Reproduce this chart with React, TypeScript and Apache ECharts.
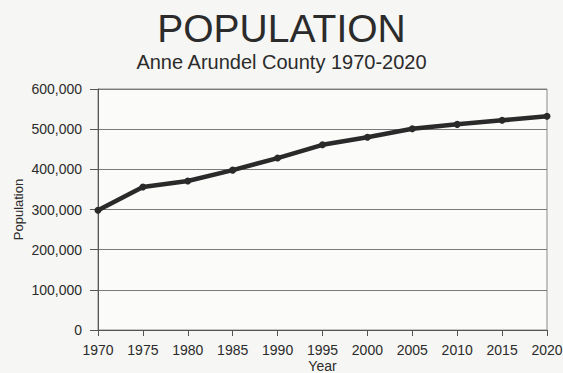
import React, { useEffect, useRef } from "react";
import * as echarts from "echarts";

const years = ["1970", "1975", "1980", "1985", "1990", "1995", "2000", "2005", "2010", "2015", "2020"];
const population = [298000, 356000, 371000, 398000, 428000, 461000, 480000, 501000, 512000, 522000, 532000];
const titleText = "POPULATION";
const subtitleText = "Anne Arundel County 1970-2020";
const yAxisName = "Population";
const xAxisName = "Year";

export default function App() {
  const ref = useRef<HTMLDivElement>(null);
  useEffect(() => {
    document.body.style.margin = "0";
    const chart = echarts.init(ref.current!, null, { renderer: "svg" });
    const sans = "Liberation Sans";
    chart.setOption({
      animation: false,
      backgroundColor: "#f6f6f4",
      title: [
        {
          text: titleText,
          left: "center",
          top: 4,
          textStyle: { fontFamily: sans, fontSize: 39, fontWeight: "normal", color: "#2b2b2b" },
        },
        {
          text: subtitleText,
          left: "center",
          top: 47,
          textStyle: { fontFamily: sans, fontSize: 20, fontWeight: "normal", color: "#2b2b2b" },
        },
      ],
      grid: {
        left: 98,
        right: 16,
        top: 89,
        bottom: 43,
        outerBoundsMode: "none",
        show: true,
        backgroundColor: "#fbfbfa",
        borderColor: "#8a8a8a",
        borderWidth: 1,
      },
      xAxis: {
        type: "category",
        data: years,
        boundaryGap: false,
        name: xAxisName,
        nameLocation: "middle",
        nameGap: 29,
        nameMoveOverlap: false,
        nameTextStyle: { fontFamily: sans, fontSize: 14, lineHeight: 14, color: "#2b2b2b" },
        axisLine: { lineStyle: { color: "#555", width: 1 } },
        axisTick: { show: true, length: 6, alignWithLabel: true, lineStyle: { color: "#555" } },
        axisLabel: { fontFamily: sans, fontSize: 14, lineHeight: 14, color: "#2b2b2b", margin: 13, interval: 0 },
        splitLine: { show: false },
      },
      yAxis: {
        type: "value",
        min: 0,
        max: 600000,
        interval: 100000,
        name: yAxisName,
        nameLocation: "middle",
        nameGap: 73,
        nameMoveOverlap: false,
        nameRotate: 90,
        nameTextStyle: { fontFamily: sans, fontSize: 13, color: "#2b2b2b" },
        axisLine: { show: true, lineStyle: { color: "#555", width: 1 } },
        axisTick: { show: true, length: 8, lineStyle: { color: "#555" } },
        axisLabel: {
          fontFamily: sans,
          fontSize: 14,
          color: "#2b2b2b",
          margin: 16,
          formatter: (v: number) => v.toLocaleString("en-US"),
        },
        splitLine: { show: true, lineStyle: { color: "#7a7a7a", width: 1 } },
      },
      series: [
        {
          type: "line",
          data: population,
          symbol: "circle",
          symbolSize: 7,
          lineStyle: { color: "#2a2a2a", width: 4.5 },
          itemStyle: { color: "#2a2a2a" },
        },
      ],
    });
    return () => chart.dispose();
  }, []);
  return <div ref={ref} style={{ position: "absolute", left: 0, top: 0, width: 563, height: 373 }} />;
}
